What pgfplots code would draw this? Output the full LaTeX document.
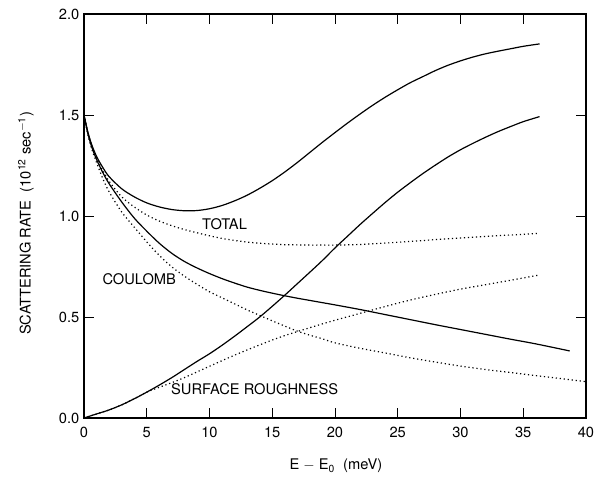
\documentclass[border=0pt]{standalone}
\usepackage{fontspec}
\setmainfont{TeX Gyre Heros}
\usepackage{pgfplots}
\pgfplotsset{compat=1.18}

% curves
\newcommand{\totsolid}{(0,1.5) (0.3,1.418) (0.6,1.356) (1,1.295) (1.5,1.24) (2,1.195) (3,1.135) (4,1.095) (5,1.065) (6,1.045) (7,1.032) (8,1.026) (9,1.027) (10,1.036) (11,1.052) (12,1.075) (13,1.103) (14,1.137) (15,1.175) (16,1.218) (17,1.265) (18,1.315) (19,1.365) (20,1.413) (21,1.46) (22,1.505) (23,1.548) (24,1.588) (25,1.625) (26,1.66) (27,1.69) (28,1.72) (29,1.746) (30,1.768) (31,1.787) (32,1.803) (33,1.816) (34,1.828) (35,1.84) (36.3,1.852)}
\newcommand{\risesolid}{(0,0) (1,0.02) (2,0.04) (3,0.065) (4,0.095) (5,0.128) (6,0.163) (7,0.2) (8,0.24) (9,0.28) (10,0.318) (11,0.36) (12,0.405) (13,0.452) (14,0.5) (15,0.553) (16,0.608) (17,0.665) (18,0.722) (19,0.78) (20,0.842) (21,0.9) (22,0.958) (23,1.013) (24,1.067) (25,1.118) (26,1.165) (27,1.21) (28,1.252) (29,1.292) (30,1.328) (31,1.36) (32,1.39) (33,1.418) (34,1.443) (35,1.467) (36.3,1.492)}
\newcommand{\coulsolid}{(0,1.5) (0.3,1.41) (0.6,1.345) (1,1.28) (1.5,1.215) (2,1.16) (3,1.07) (4,0.99) (5,0.925) (6,0.865) (7,0.815) (8,0.775) (9,0.743) (10,0.715) (11,0.69) (12,0.668) (13,0.648) (14,0.632) (15,0.618) (16,0.605) (17,0.593) (18,0.582) (19,0.571) (20,0.56) (22,0.537) (24,0.512) (26,0.487) (28,0.462) (30,0.438) (32,0.414) (34,0.39) (36,0.367) (38.7,0.332)}
\newcommand{\couldot}{(0,1.5) (0.3,1.405) (0.6,1.335) (1,1.265) (1.5,1.185) (2,1.12) (3,1.02) (4,0.945) (5,0.872) (6,0.805) (7,0.748) (8,0.702) (9,0.662) (10,0.625) (11,0.595) (12,0.565) (13,0.535) (14,0.508) (15,0.481) (16,0.455) (17,0.43) (18,0.41) (19,0.392) (20,0.372) (22,0.345) (24,0.322) (26,0.298) (28,0.277) (30,0.257) (32,0.24) (34,0.225) (36,0.21) (38,0.195) (40,0.18)}
\newcommand{\srdot}{(0,0) (1,0.02) (2,0.04) (3,0.065) (4,0.095) (5,0.128) (6,0.152) (7,0.175) (8,0.2) (9,0.228) (10,0.256) (11,0.284) (12,0.311) (13,0.337) (14,0.362) (15,0.386) (16,0.408) (17,0.428) (18,0.447) (19,0.466) (20,0.484) (22,0.518) (24,0.552) (26,0.584) (28,0.612) (30,0.638) (32,0.66) (34,0.682) (36.3,0.708)}
\newcommand{\totdot}{(0,1.5) (0.3,1.414) (0.6,1.35) (1,1.285) (1.5,1.225) (2,1.172) (3,1.095) (4,1.045) (5,1.005) (6,0.975) (7,0.952) (8,0.933) (9,0.917) (10,0.902) (11,0.889) (12,0.879) (13,0.871) (14,0.865) (15,0.861) (16,0.858) (17,0.857) (18,0.856) (19,0.856) (20,0.856) (22,0.859) (24,0.866) (26,0.874) (28,0.883) (30,0.891) (32,0.899) (34,0.906) (36.3,0.914)}

\begin{document}
\begin{tikzpicture}
\path[use as bounding box] (-63pt,-46.5pt) rectangle (384.75pt,313.5pt);
\begin{axis}[
  at={(0,0)}, anchor=south west,
  scale only axis, width=376.5pt, height=303pt,
  xmin=0, xmax=40, ymin=0, ymax=2,
  xtick={0,5,10,15,20,25,30,35,40},
  ytick={0,0.5,1,1.5,2},
  yticklabel style={/pgf/number format/.cd, fixed, fixed zerofill, precision=1},
  xticklabel style={yshift=-3.5pt},
  /pgf/number format/assume math mode=true,
  tick align=inside, major tick length=7.5pt,
  axis line style={line width=0.8pt},
  tick style={line width=0.6pt, black},
  ticklabel style={font=\fontsize{11}{13}\selectfont},
  solid/.style={black, line width=0.9pt, smooth, tension=0.5},
  dots/.style={black, line width=0.9pt, smooth, tension=0.5, dash pattern=on 0.9pt off 2.1pt},
]
\addplot[solid] coordinates {\totsolid};
\addplot[solid] coordinates {\risesolid};
\addplot[solid] coordinates {\coulsolid};
\addplot[dots] coordinates {\couldot};
\addplot[dots] coordinates {\srdot};
\addplot[dots] coordinates {\totdot};
\node[font=\fontsize{11}{13}\selectfont] at (axis cs:11.2,0.96) {TOTAL};
\node[font=\fontsize{11}{13}\selectfont] at (axis cs:4.4,0.688) {COULOMB};
\node[font=\fontsize{11}{13}\selectfont] at (axis cs:13.6,0.144) {SURFACE ROUGHNESS};
\end{axis}
\node[rotate=90, font=\fontsize{11}{13}\selectfont] at (-43.5pt,146pt) {SCATTERING RATE\ \ (10\textsuperscript{12} sec\textsuperscript{$-$1})};
\node[font=\fontsize{11}{13}\selectfont] at (189pt,-36pt) {E $-$ E\textsubscript{0}\ \ (meV)};
\end{tikzpicture}
\end{document}
